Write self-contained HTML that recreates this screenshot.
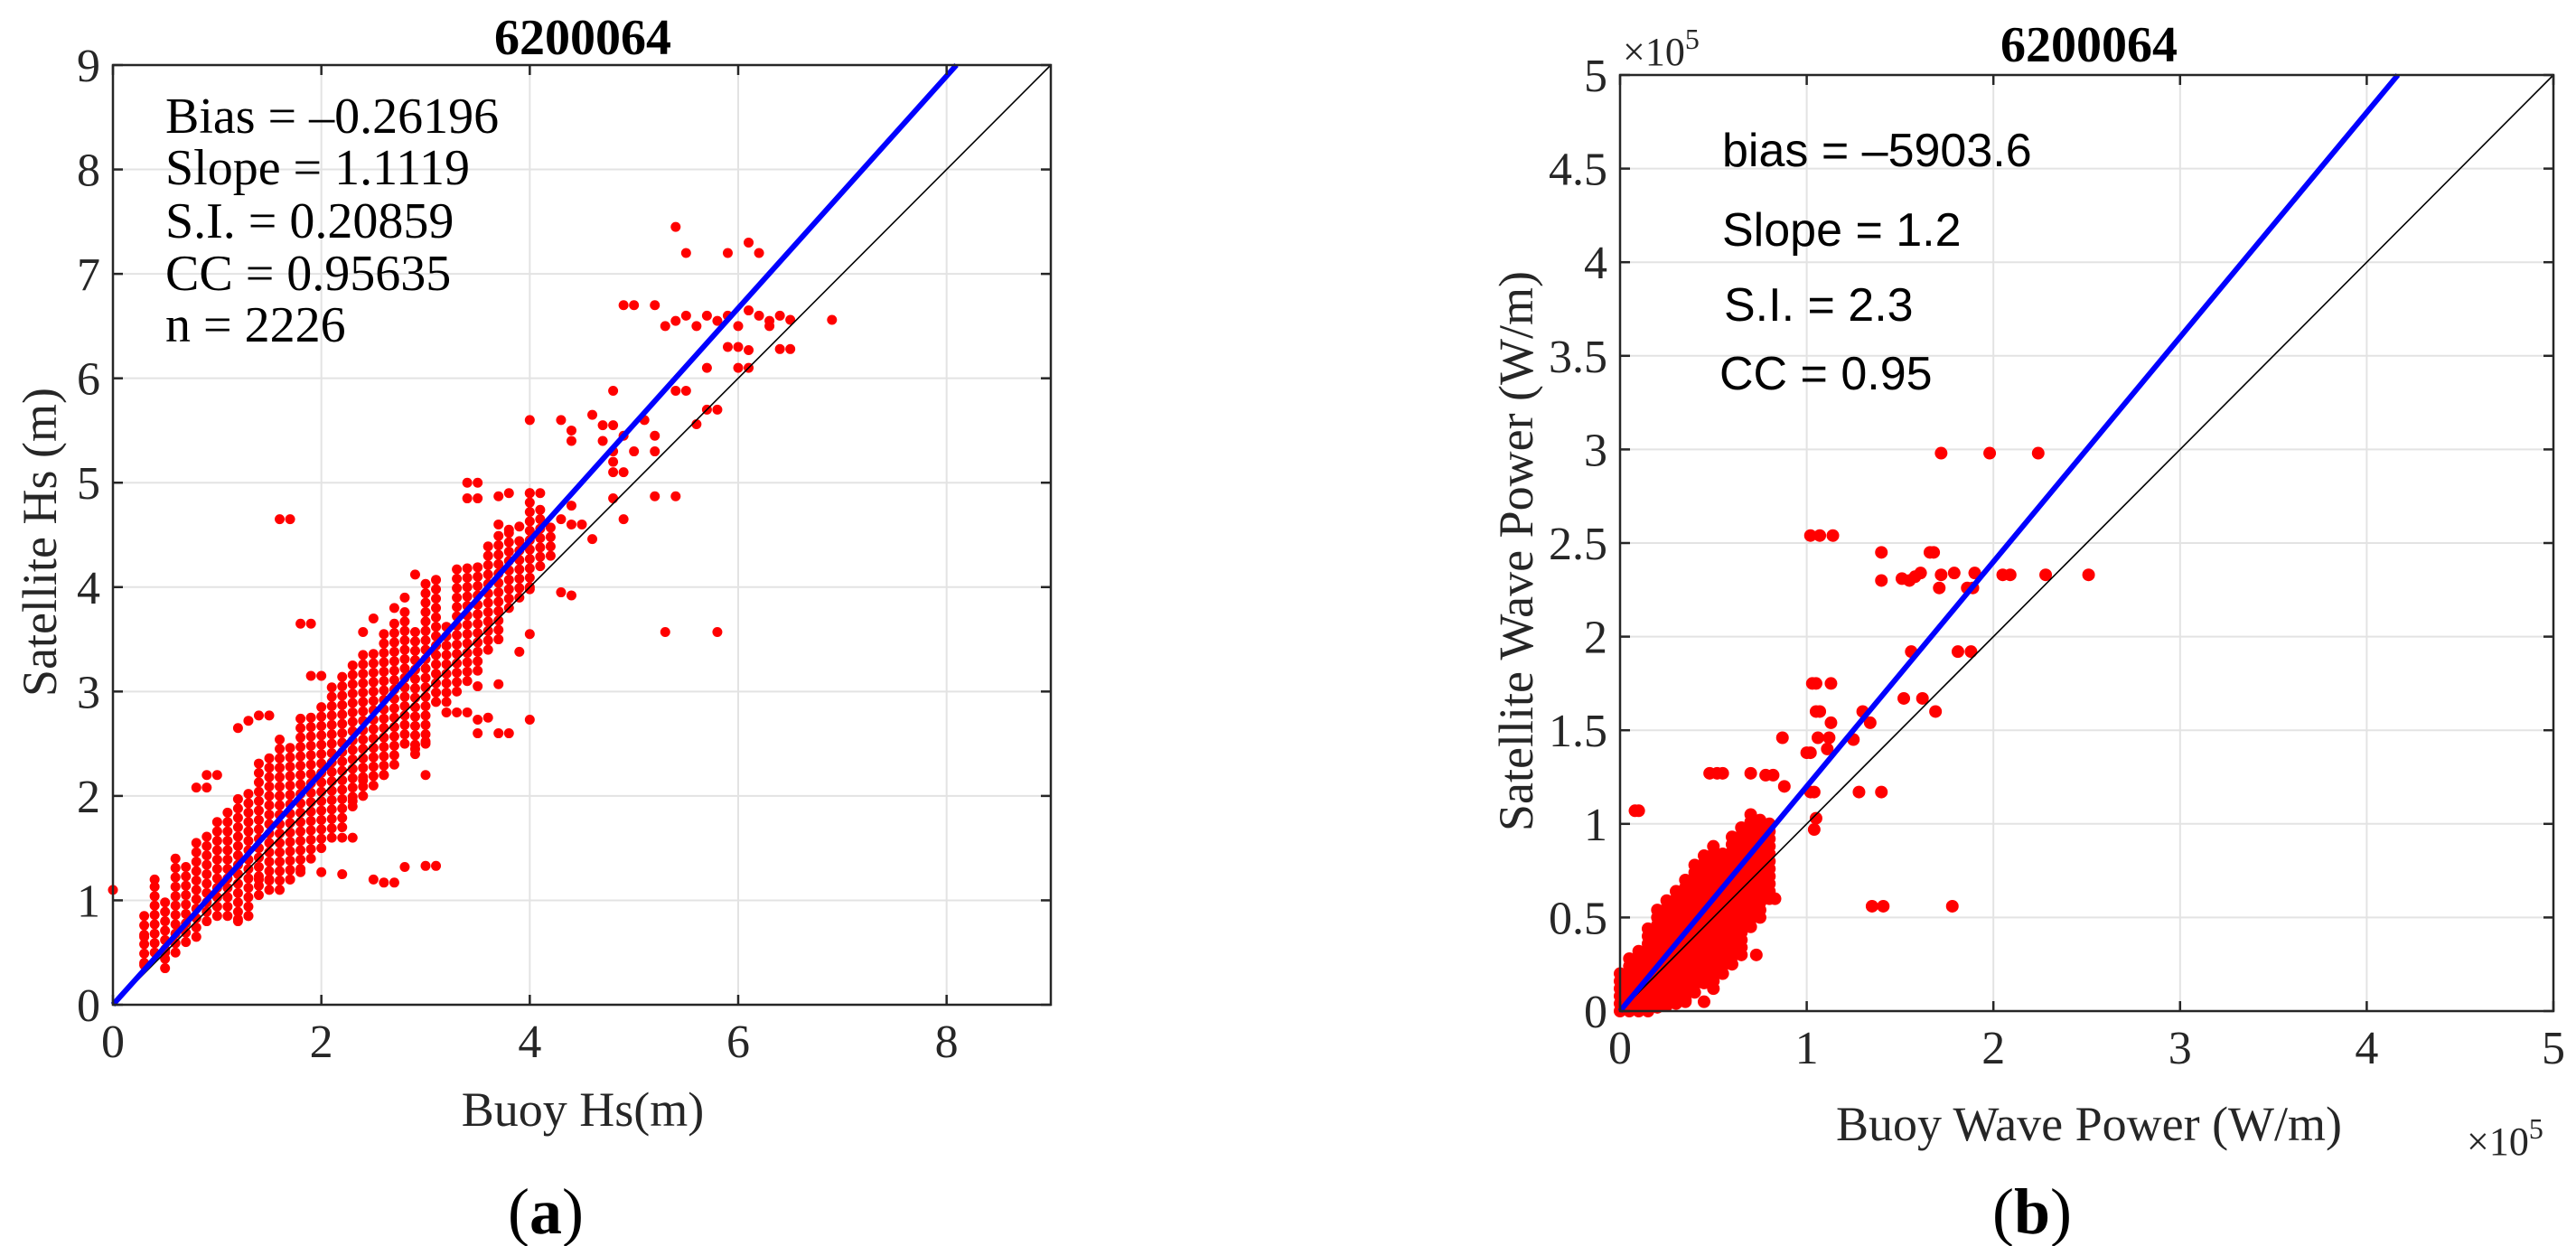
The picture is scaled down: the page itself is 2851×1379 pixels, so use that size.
<!DOCTYPE html>
<html><head><meta charset="utf-8"><style>
html,body{margin:0;padding:0;background:#fff;}
svg{display:block;}
.serif{font-family:"Liberation Serif",serif;}
.sans{font-family:"Liberation Sans",sans-serif;}
</style></head><body>
<svg id="chart" width="2851" height="1379" viewBox="0 0 2851 1379" xmlns="http://www.w3.org/2000/svg"></svg>
<script>
// ---- Panel (a) data ----
const aTicks = [0,1,2,3,4,5,6,7,8,9];
const aXTicks = [0,2,4,6,8];
const aColX =   [0.3,0.4,0.5,0.6,0.7,0.8,0.9,1.0,1.1,1.2,1.3,1.4,1.5,1.6,1.7,1.8,1.9,2.0,2.1,2.2,2.3,2.4,2.5,2.6,2.7,2.8,2.9,3.0,3.1,3.2,3.3,3.4,3.5,3.6,3.7,3.8,3.9,4.0,4.1,4.2];
const aColMin = [0.4,0.5,0.35,0.5,0.6,0.65,0.8,0.85,0.85,0.8,0.85,1.05,1.1,1.1,1.2,1.3,1.4,1.5,1.6,1.7,1.9,2.0,2.1,2.2,2.3,2.5,2.4,2.5,2.9,2.9,3.0,3.1,3.2,3.4,3.5,3.8,3.9,4.0,4.2,4.3];
const aColMax = [0.9,1.2,1.0,1.4,1.4,1.6,1.65,1.75,1.9,2.0,2.1,2.35,2.4,2.6,2.5,2.8,2.8,2.9,3.1,3.2,3.3,3.4,3.4,3.6,3.7,3.8,3.6,4.1,4.1,3.7,4.2,4.2,4.2,4.4,4.5,4.6,4.5,4.9,4.8,4.6];
const aOutX = [0,0.3,1.6,1.7,1.8,1.9,2.0,1.9,2.2,2.3,1.4,1.5,1.7,2.0,1.8,2.2,2.5,2.6,2.7,2.8,3.0,3.1,3.0,2.3,2.4,2.6,2.9,3.0,3.3,3.2,3.4,3.5,3.7,3.8,3.5,3.6,4.0,3.9,4.0,3.5,3.7,4.3,4.4,4.0,4.3,4.4,4.5,4.6,4.9,4.4,4.6,4.7,4.8,4.4,4.3,4.0,4.4,4.7,4.8,4.9,5.0,5.1,5.2,5.2,4.8,4.8,4.8,4.9,4.8,5.2,5.4,5.3,5.8,5.4,5.5,5.6,5.7,5.8,5.7,5.9,6.0,6.1,6.0,6.1,6.4,6.5,5.3,5.4,5.5,5.6,5.7,5.8,5.9,6.0,6.1,6.2,6.3,6.3,6.4,6.5,6.9,4.9,5.0,5.2,5.4,5.5,5.9,6.1,6.2,3.4,3.5,3.4,3.5,3.7,3.8,4.0,4.1,3.8,3.9,3.7,2.4,2.5,2.7,2.8,2.9,1.5,1.4,1.2,1.3,1.0,0.9,0.8,0.9,1.2,1.3,0.3,0.5,0.4];
const aOutY = [1.1,0.38,4.65,4.65,3.65,3.65,3.15,3.15,1.6,1.6,1.2,1.2,1.2,1.27,1.27,1.25,1.2,1.17,1.17,1.32,1.33,1.33,2.2,1.95,2.15,2.2,2.45,2.52,2.8,2.8,2.8,2.6,2.6,2.6,2.73,2.75,2.73,3.38,3.55,3.05,3.07,3.95,3.92,3.98,4.65,4.6,4.6,4.46,4.65,4.78,5.65,5.55,5.55,5.5,5.6,5.6,5.4,5.4,5.3,5.45,5.3,5.6,5.3,5.45,5.88,5.2,5.1,5.1,4.85,4.87,4.87,3.57,3.57,5.88,5.88,5.56,5.7,5.7,6.1,6.3,6.3,6.27,6.1,6.1,6.28,6.28,6.5,6.55,6.6,6.5,6.6,6.55,6.6,6.5,6.65,6.6,6.55,6.5,6.6,6.56,6.56,6.7,6.7,6.7,7.45,7.2,7.2,7.3,7.2,5.0,5.0,4.85,4.85,4.87,4.9,4.9,4.9,4.55,4.58,4.6,3.57,3.7,3.8,3.9,4.12,2.77,2.77,2.65,2.72,2.2,2.2,2.08,2.08,0.82,0.85,0.65,0.5,1.2];
const aSlope = [1.1119];
// ---- Panel (b) data (units of 1e5 W/m) ----
const bTicksY = [0,0.5,1,1.5,2,2.5,3,3.5,4,4.5,5];
const bTickLabY = ["0","0.5","1","1.5","2","2.5","3","3.5","4","4.5","5"];
const bTicksX = [0,1,2,3,4,5];
const bColX =   [0.0,0.05,0.1,0.15,0.2,0.25,0.3,0.35,0.4,0.45,0.5,0.55,0.6,0.65,0.7,0.75,0.8];
const bColMin = [0,0,0,0,0.02,0.03,0.04,0.06,0.1,0.15,0.12,0.2,0.25,0.3,0.45,0.5,0.6];
const bColMax = [0.2,0.3,0.35,0.45,0.55,0.6,0.65,0.7,0.8,0.85,0.9,0.85,0.95,1.0,1.05,1.05,1.0];
const bOutX = [0.08,0.1,0.48,0.52,0.55,0.7,0.78,0.82,0.88,0.87,1.0,1.02,1.03,1.05,1.13,1.05,1.07,1.06,1.12,1.13,1.11,1.25,1.3,1.34,1.28,1.4,1.02,1.04,1.05,1.04,1.35,1.41,1.78,0.73,0.83,1.02,1.07,1.14,1.4,1.66,1.68,1.4,1.51,1.55,1.58,1.61,1.72,1.79,1.71,1.86,1.89,1.9,2.05,2.09,2.28,2.51,1.56,1.81,1.88,1.52,1.62,1.69,1.72,1.98,2.24,0.45,0.3,0.35];
const bOutY = [1.07,1.07,1.27,1.27,1.27,1.27,1.26,1.26,1.2,1.46,1.38,1.38,1.75,1.75,1.75,1.6,1.6,1.46,1.46,1.54,1.4,1.45,1.6,1.54,1.17,1.17,1.17,1.17,1.03,0.97,0.56,0.56,0.56,0.3,0.6,2.54,2.54,2.54,2.45,2.45,2.45,2.3,2.31,2.3,2.32,2.34,2.33,2.34,2.26,2.26,2.26,2.34,2.33,2.33,2.33,2.33,1.92,1.92,1.92,1.67,1.67,1.6,2.98,2.98,2.98,0.05,0.05,0.05];
const bSlope = [1.2];

const NS = "http://www.w3.org/2000/svg";
const svg = document.getElementById('chart');
function el(tag, attrs, parent, text){
  const e = document.createElementNS(NS, tag);
  for (const k in attrs) e.setAttribute(k, attrs[k]);
  if (text !== undefined) e.textContent = text;
  (parent||svg).appendChild(e);
  return e;
}

function panel(cfg){
  const g = el('g', {});
  
  
  const sx = v => cfg.L + v / cfg.max * (cfg.R - cfg.L);
  const sy = v => cfg.B - v / cfg.max * (cfg.B - cfg.T);
  const grid = el('g', {stroke:'#e3e3e3','stroke-width':2}, g);
  
  
  cfg.yt.forEach(v => el('line', {x1:cfg.L, x2:cfg.R, y1:sy(v), y2:sy(v)}, grid));
  cfg.xt.forEach(v => el('line', {x1:sx(v), x2:sx(v), y1:cfg.T, y2:cfg.B}, grid));
  const pts = el('g', {fill:'#ff0000'}, g);
  
  
  for (let i = 0; i < cfg.colX.length; i++){
    for (let y = cfg.colMin[i]; y <= cfg.colMax[i] + 1e-9; y += cfg.ystep){
      const c = el('circle', {cx:sx(cfg.colX[i]), cy:sy(y), r:cfg.r}, pts);
      
      
    }
  }
  for (let i = 0; i < cfg.outX.length; i++){
    const c = el('circle', {cx:sx(cfg.outX[i]), cy:sy(cfg.outY[i]), r:cfg.r}, pts);
    
    
  }
  const one = el('line', {x1:sx(0), y1:sy(0), x2:sx(cfg.max), y2:sy(cfg.max), stroke:'#000','stroke-width':1.6}, g);
  
  
  const xe = cfg.max / cfg.slope;
  const fit = el('line', {x1:sx(0), y1:sy(0), x2:sx(xe), y2:sy(cfg.max), stroke:'#0000ff','stroke-width':6}, g);
  
  
  const box = el('rect', {x:cfg.L, y:cfg.T, width:cfg.R-cfg.L, height:cfg.B-cfg.T, fill:'none', stroke:'#262626','stroke-width':2.5}, g);
  
  
  const tk = el('g', {stroke:'#262626','stroke-width':2.5}, g);
  cfg.yt.forEach(v => { el('line', {x1:cfg.L, x2:cfg.L+11, y1:sy(v), y2:sy(v)}, tk); el('line', {x1:cfg.R, x2:cfg.R-11, y1:sy(v), y2:sy(v)}, tk); });
  cfg.xt.forEach(v => { el('line', {x1:sx(v), x2:sx(v), y1:cfg.B, y2:cfg.B-11}, tk); el('line', {x1:sx(v), x2:sx(v), y1:cfg.T, y2:cfg.T+11}, tk); });
  const yl = el('g', {'class':'serif','font-size':52, fill:'#262626','text-anchor':'end'}, g);
  
  
  cfg.yt.forEach((v,i) => el('text', {x:cfg.L-14, y:sy(v)+18}, yl, cfg.ytl[i]));
  const xl = el('g', {'class':'serif','font-size':52, fill:'#262626','text-anchor':'middle'}, g);
  
  
  cfg.xt.forEach(v => el('text', {x:sx(v), y:cfg.B+58}, xl, String(v)));
}

panel({name:'panel-a-hs', L:125, R:1163, T:72, B:1112, max:9, yt:aTicks, ytl:aTicks.map(String), xt:aXTicks,
  colX:aColX, colMin:aColMin, colMax:aColMax, ystep:0.09, outX:aOutX, outY:aOutY, r:5.5, slope:aSlope[0]});
panel({name:'panel-b-power', L:1793, R:2826, T:83, B:1119, max:5, yt:bTicksY, ytl:bTickLabY, xt:bTicksX,
  colX:bColX, colMin:bColMin, colMax:bColMax, ystep:0.04, outX:bOutX, outY:bOutY, r:7, slope:bSlope[0]});
</script>
<svg width="2851" height="1379" style="position:absolute;left:0;top:0;pointer-events:none" xmlns="http://www.w3.org/2000/svg">
  <text x="645" y="60" class="serif" font-size="56" font-weight="bold" text-anchor="middle" fill="#000">6200064</text>
  <g class="serif" font-size="56" fill="#000">
    <text x="183" y="147">Bias = –0.26196</text>
    <text x="183" y="204">Slope = 1.1119</text>
    <text x="183" y="263">S.I. = 0.20859</text>
    <text x="183" y="321">CC = 0.95635</text>
    <text x="183" y="378">n = 2226</text>
  </g>
  <text class="serif" font-size="54" fill="#262626" text-anchor="middle" transform="translate(62,600) rotate(-90)">Satellite Hs (m)</text>
  <text class="serif" font-size="54" fill="#262626" text-anchor="middle" x="645" y="1246">Buoy Hs(m)</text>
  <text class="serif" font-size="72" fill="#000" text-anchor="middle" x="604" y="1365">(<tspan font-weight="bold">a</tspan>)</text>

  <text x="2312" y="68" class="serif" font-size="56" font-weight="bold" text-anchor="middle" fill="#000">6200064</text>
  <text x="1796" y="72" class="serif" font-size="44" fill="#262626">×10<tspan dy="-18" font-size="32">5</tspan></text>
  <g class="sans" font-size="52" fill="#000">
    <text x="1906" y="184">bias = –5903.6</text>
    <text x="1906" y="272">Slope = 1.2</text>
    <text x="1908" y="355">S.I. = 2.3</text>
    <text x="1903" y="431">CC = 0.95</text>
  </g>
  <text class="serif" font-size="54" fill="#262626" text-anchor="middle" transform="translate(1696,610) rotate(-90)">Satellite  Wave Power (W/m)</text>
  <text class="serif" font-size="54" fill="#262626" text-anchor="middle" x="2312" y="1262">Buoy Wave Power (W/m)</text>
  <text x="2730" y="1278" class="serif" font-size="44" fill="#262626">×10<tspan dy="-18" font-size="32">5</tspan></text>
  <text class="serif" font-size="72" fill="#000" text-anchor="middle" x="2249" y="1365">(<tspan font-weight="bold">b</tspan>)</text>
</svg>
</body></html>
